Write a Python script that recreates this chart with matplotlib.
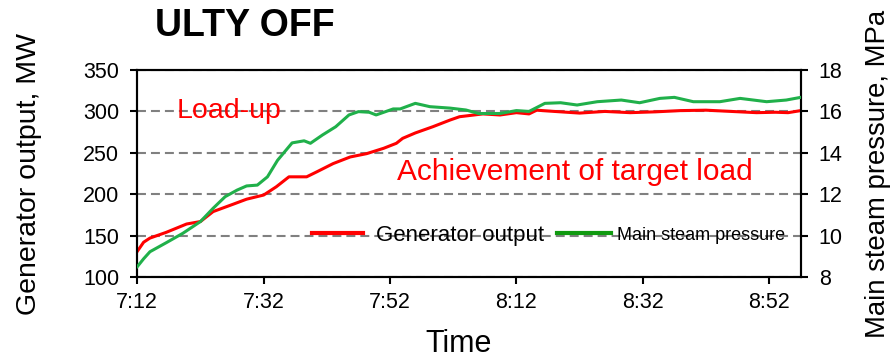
import matplotlib
matplotlib.use("Agg")
import matplotlib.pyplot as plt
from matplotlib.lines import Line2D

plt.rcParams['font.family'] = ['Liberation Sans', 'DejaVu Sans']

# ---- data ----
title = "ULTY OFF"
tick_minutes = [0, 20, 40, 60, 80, 100]
tick_labels = ['7:12', '7:32', '7:52', '8:12', '8:32', '8:52']

gen_t = [0, 1, 2, 4.6, 7.8, 10, 12, 15.2, 17.3, 20, 22, 24, 26.8, 28.4, 31, 33.7,
         36.3, 39, 41, 42, 44, 46.8, 49.5, 51, 54.7, 57.4, 60, 62, 63.2, 66, 70,
         74, 78, 82, 86, 90, 94, 98, 101, 103, 105]
gen_mw = [131, 142, 147, 154, 164, 167, 179, 188, 194, 199, 209, 221, 221, 227, 237, 245,
          249, 255.5, 261.5, 267.5, 274, 281.6, 289.6, 293.6, 297, 295.7, 298.5, 297, 301.5, 300, 298,
          300, 298.5, 299.5, 301, 301.5, 300, 298.5, 299, 298.5, 301]

pr_t = [0, 1, 2, 4.6, 7.2, 10, 12, 13.9, 15.8, 17.3, 19, 20.6, 22.2, 24.5, 26.4, 27.4,
        29.3, 31.4, 33.5, 35, 36.7, 37.8, 40.5, 41.6, 44, 46.3, 49.5, 52, 54, 57.4,
        60, 62, 64.5, 67, 69.6, 72.8, 76.6, 79.5, 82.7, 85, 88, 92.2, 95.4, 99.6, 102.7, 105]
pr_mpa = [8.50, 8.88, 9.22, 9.66, 10.11, 10.68, 11.32, 11.88, 12.20, 12.40, 12.44, 12.84, 13.64, 14.48, 14.58, 14.46,
          14.86, 15.26, 15.83, 15.99, 15.96, 15.83, 16.12, 16.12, 16.39, 16.23, 16.16, 16.07, 15.90, 15.90,
          16.04, 16.00, 16.39, 16.42, 16.31, 16.47, 16.55, 16.42, 16.63, 16.68, 16.47, 16.47, 16.63, 16.47, 16.55, 16.68]

series_labels = ["Generator output", "Main steam pressure"]
annotations = ["Load-up", "Achievement of target load"]

RED = '#FF0000'
GREEN = '#20B04A'
LEG_GREEN = '#109A10'

fig = plt.figure(figsize=(8.91, 3.61), dpi=100)
ax = fig.add_axes([0.1541, 0.2327, 0.7446, 0.5733])
ax2 = ax.twinx()

ax.plot(gen_t, gen_mw, color=RED, lw=2.2, zorder=3, solid_joinstyle='round')
ax2.plot(pr_t, pr_mpa, color=GREEN, lw=2.2, zorder=3, solid_joinstyle='round')

ax.set_xlim(0, 105)
ax.set_ylim(100, 350)
ax2.set_ylim(8, 18)
ax.set_yticks([100, 150, 200, 250, 300, 350])
ax2.set_yticks([8, 10, 12, 14, 16, 18])
ax.set_xticks(tick_minutes)
ax.set_xticklabels(tick_labels)

ax.yaxis.grid(True, color='#808080', lw=1.5, linestyle=(0, (4.3, 2.4)))
ax.set_axisbelow(True)

for a in (ax, ax2):
    for s in a.spines.values():
        s.set_linewidth(1.5)
        s.set_color('black')
ax.tick_params(axis='y', direction='out', length=5, width=1.5, pad=8, labelsize=15.5)
ax.tick_params(axis='x', direction='out', length=5, width=1.5, pad=6, labelsize=15.5)
ax2.tick_params(axis='y', direction='out', length=5, width=1.5, pad=8, labelsize=15.5)

ax.set_ylabel("Generator output, MW", fontsize=20.5)
ax.yaxis.set_label_coords((29 - 137.3) / 663.4, 0.5)
ax2.set_ylabel("Main steam pressure, MPa", fontsize=19.8)
ax2.yaxis.set_label_coords((878 - 137.3) / 663.4, 0.5)
ax2.yaxis.label.set_va('center')
ax.yaxis.label.set_va('center')
ax.set_xlabel("Time", fontsize=22)
ax.xaxis.set_label_coords((459 - 137.3) / 663.4, -0.25)

fig.text(245 / 891, 1 - 26 / 361, title, fontsize=27, fontweight='bold',
         ha='center', va='center')

ax.text(6.3, 300, annotations[0], color=RED, fontsize=20.5, va='center', ha='left')
ax.text(41.1, 227, annotations[1], color=RED, fontsize=21.5, va='center', ha='left')

h1 = Line2D([], [], color=RED, lw=3)
h2 = Line2D([], [], color=LEG_GREEN, lw=3)
leg1 = ax2.legend([h1], [series_labels[0]], loc='center left',
                  bbox_to_anchor=(312 / 891, 1 - 235 / 361), bbox_transform=fig.transFigure,
                  frameon=False, fontsize=16, handlelength=2.3, handletextpad=0.6,
                  borderpad=0, borderaxespad=0)
ax2.add_artist(leg1)
leg2 = ax2.legend([h2], [series_labels[1]], loc='center left',
                  bbox_to_anchor=(557 / 891, 1 - 235 / 361), bbox_transform=fig.transFigure,
                  frameon=False, fontsize=13, handlelength=3.0, handletextpad=0.35,
                  borderpad=0, borderaxespad=0)

fig.savefig("out.png", dpi=100)
